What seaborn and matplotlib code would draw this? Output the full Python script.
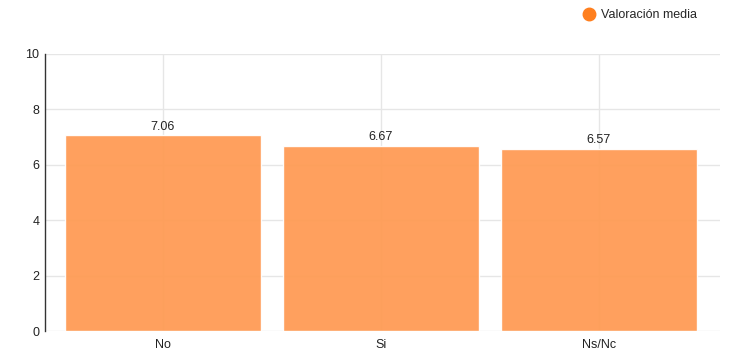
import matplotlib
matplotlib.use("Agg")
import matplotlib.pyplot as plt
import seaborn as sns
from matplotlib.lines import Line2D

categories = ["No", "Si", "Ns/Nc"]
values = [7.06, 6.67, 6.57]
series_name = "Valoración media"
yticks = [0, 2, 4, 6, 8, 10]

sns.set_theme(style="white")
plt.rcParams['font.family'] = ['Liberation Sans', 'DejaVu Sans']

W, H = 746, 355
fig = plt.figure(figsize=(W/100, H/100), dpi=100)
ax = fig.add_axes([45/W, (H-331)/H, (720-45)/W, (331-54)/H])

sns.barplot(x=categories, y=values, color="#ff9b55", alpha=0.95, width=0.9,
            ax=ax, zorder=2, saturation=1)

ax.set_ylim(0, 10)
ax.set_xlim(-0.54, 2.555)
ax.set_yticks(yticks)
ax.set_yticklabels([str(t) for t in yticks])
ax.grid(True, axis="both", color="#e6e6e6", linewidth=1, zorder=0)
ax.set_axisbelow(True)
for s in ["top", "right", "bottom"]:
    ax.spines[s].set_visible(False)
ax.spines["left"].set_color("#333333")
ax.spines["left"].set_linewidth(1)
ax.tick_params(axis="y", length=0, labelsize=9, colors="#222222", pad=4)
ax.tick_params(axis="x", length=0, labelsize=9, colors="#222222", pad=5.5)
ax.set_xlabel("")
ax.set_ylabel("")

for i, v in enumerate(values):
    ax.text(i, v + 0.1, f"{v:.2f}", ha="center", va="bottom", fontsize=9, color="#222222")

handle = Line2D([], [], marker="o", linestyle="", markersize=9,
                markerfacecolor="#ff7f1e", markeredgecolor="#ff7f1e")
fig.legend([handle], [series_name], loc="center right",
           bbox_to_anchor=(697/W, 1 - 15/H), frameon=False, fontsize=9,
           handletextpad=0.0, borderaxespad=0, borderpad=0)

fig.savefig("out.png", dpi=100)
